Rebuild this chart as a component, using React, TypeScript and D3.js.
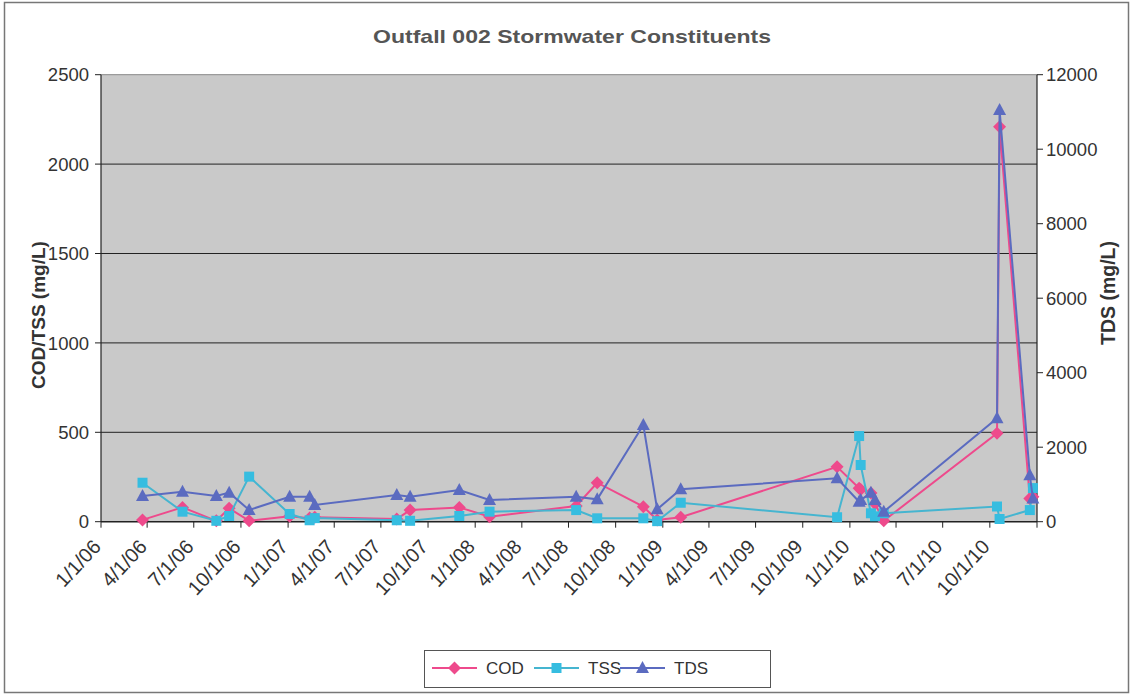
import React from "react";
import * as d3 from "d3";

// Sampling dates of the outfall stormwater grabs
const sampleDates = [
  "2006-03-23", "2006-06-09", "2006-08-14", "2006-09-08", "2006-10-17",
  "2007-01-04", "2007-02-12", "2007-02-22", "2007-08-01", "2007-08-27",
  "2007-12-01", "2008-01-29", "2008-07-16", "2008-08-26", "2008-11-24",
  "2008-12-21", "2009-02-05", "2009-12-07", "2010-01-19", "2010-01-22",
  "2010-02-11", "2010-02-19", "2010-03-08", "2010-10-15", "2010-10-20",
  "2010-12-18", "2010-12-24",
];

// Chemical oxygen demand, mg/L
const cod = [
  10, 80, 5, 75, 5, 30, 20, 25, 15, 65, 80, 28, 88, 218, 84, 10, 25, 307,
  187, 180, 160, 100, 5, 494, 2209, 130, 140,
];

// Total suspended solids, mg/L
const tss = [
  218, 56, 5, 32, 252, 43, 8, 20, 8, 5, 32, 56, 65, 19, 19, 3, 106, 25,
  479, 317, 47, 30, 47, 85, 15, 65, 188,
];

// Total dissolved solids, mg/L
const tds = [
  690, 805, 690, 780, 314, 670, 670, 450, 717, 670, 851, 583, 670, 600,
  2596, 333, 870, 1165, 537, 580, 779, 583, 268, 2776, 11054, 1250, 620,
];

const xTickLabels = [
  "1/1/06", "4/1/06", "7/1/06", "10/1/06", "1/1/07", "4/1/07", "7/1/07",
  "10/1/07", "1/1/08", "4/1/08", "7/1/08", "10/1/08", "1/1/09", "4/1/09",
  "7/1/09", "10/1/09", "1/1/10", "4/1/10", "7/1/10", "10/1/10",
];
const leftTicks = [0, 500, 1000, 1500, 2000, 2500];
const rightTicks = [0, 2000, 4000, 6000, 8000, 10000, 12000];

const W = 1135;
const H = 698;
const plot = { left: 101, right: 1037, top: 74.7, bottom: 521.7 };

const FONT = "'Liberation Sans', Arial, sans-serif";
const TEXT = "#333";

const COLORS = { cod: "#ee4a8c", tss: "#36bde0", tds: "#5b6bc0" };
const LINE_COLORS = { cod: "#ee4a8c", tss: "#45b5d0", tds: "#5b6bc0" };

const parseDate = d3.timeParse("%Y-%m-%d");
const parseTick = d3.timeParse("%-m/%-d/%y");

const dates = sampleDates.map((s) => parseDate(s) as Date);
const tickDates = xTickLabels.map((s) => parseTick(s) as Date);

const x = d3
  .scaleTime()
  .domain([new Date(2006, 0, 1), new Date(2011, 0, 1)])
  .range([plot.left, plot.right]);
const yLeft = d3.scaleLinear().domain([0, 2500]).range([plot.bottom, plot.top]);
const yRight = d3.scaleLinear().domain([0, 12000]).range([plot.bottom, plot.top]);

const allTickDates = [...tickDates, new Date(2011, 0, 1)];

type Shape = "diamond" | "square" | "triangle";
const markerPath: Record<Shape, string> = {
  diamond: "M0,-6.5L6.5,0L0,6.5L-6.5,0Z",
  square: "M-5,-5H5V5H-5Z",
  triangle: "M0,-7L6.5,5L-6.5,5Z",
};

function Series({
  values,
  scale,
  color,
  lineColor,
  shape,
}: {
  values: number[];
  scale: d3.ScaleLinear<number, number>;
  color: string;
  lineColor: string;
  shape: Shape;
}) {
  const pts = values.map((v, i) => [x(dates[i]), scale(v)] as [number, number]);
  const line = d3.line()(pts) || "";
  return (
    <g>
      <path d={line} fill="none" stroke={lineColor} strokeWidth={2} />
      {pts.map(([px, py], i) => (
        <path key={i} d={markerPath[shape]} transform={`translate(${px},${py})`} fill={color} />
      ))}
    </g>
  );
}

export default function App() {
  const legendItems: { label: string; color: string; lineColor: string; shape: Shape; x: number }[] = [
    { label: "COD", color: COLORS.cod, lineColor: LINE_COLORS.cod, shape: "diamond", x: 432 },
    { label: "TSS", color: COLORS.tss, lineColor: LINE_COLORS.tss, shape: "square", x: 534 },
    { label: "TDS", color: COLORS.tds, lineColor: LINE_COLORS.tds, shape: "triangle", x: 620 },
  ];
  return (
    <svg
      width={W}
      height={H}
      style={{ position: "absolute", left: 0, top: 0, background: "#fff" }}
      fontFamily={FONT}
    >
      <rect x={0} y={0} width={W} height={H} fill="#fff" />
      <rect x={4.5} y={2.5} width={1124} height={690} fill="none" stroke="#777" strokeWidth={1.5} />

      <text
        x={572}
        y={43}
        textAnchor="middle"
        fontSize={19}
        fontWeight="bold"
        fill="#555"
        textLength={398}
        lengthAdjust="spacingAndGlyphs"
      >
        Outfall 002 Stormwater Constituents
      </text>

      {/* plot area */}
      <rect
        x={plot.left}
        y={plot.top}
        width={plot.right - plot.left}
        height={plot.bottom - plot.top}
        fill="#c9c9c9"
      />
      {leftTicks.slice(1).map((t) => (
        <line
          key={t}
          x1={plot.left}
          x2={plot.right}
          y1={yLeft(t)}
          y2={yLeft(t)}
          stroke={t === 2500 ? "#888" : "#222"}
          strokeWidth={1}
        />
      ))}

      {/* left axis */}
      <line x1={plot.left} x2={plot.left} y1={plot.top} y2={plot.bottom} stroke="#222" strokeWidth={1.2} />
      {leftTicks.map((t) => (
        <g key={t}>
          <line x1={plot.left - 6} x2={plot.left} y1={yLeft(t)} y2={yLeft(t)} stroke="#222" />
          <text x={plot.left - 12} y={yLeft(t)} dy="0.36em" textAnchor="end" fontSize={18.5} fill={TEXT}>
            {t}
          </text>
        </g>
      ))}
      <text
        transform={`translate(45,315) rotate(-90)`}
        textAnchor="middle"
        fontSize={19}
        fontWeight="bold"
        fill={TEXT}
      >
        COD/TSS (mg/L)
      </text>

      {/* right axis */}
      <line x1={plot.right} x2={plot.right} y1={plot.top} y2={plot.bottom} stroke="#222" strokeWidth={1.2} />
      {rightTicks.map((t) => (
        <g key={t}>
          <line x1={plot.right} x2={plot.right + 6} y1={yRight(t)} y2={yRight(t)} stroke="#222" />
          <text x={plot.right + 9} y={yRight(t)} dy="0.36em" textAnchor="start" fontSize={18.5} fill={TEXT}>
            {t}
          </text>
        </g>
      ))}
      <text
        transform={`translate(1115,293) rotate(-90)`}
        textAnchor="middle"
        fontSize={19.5}
        fontWeight="bold"
        fill={TEXT}
      >
        TDS (mg/L)
      </text>

      {/* bottom axis */}
      <line x1={plot.left} x2={plot.right} y1={plot.bottom} y2={plot.bottom} stroke="#222" strokeWidth={1.5} />
      {allTickDates.map((d, i) => (
        <line key={i} x1={x(d)} x2={x(d)} y1={plot.bottom} y2={plot.bottom + 6} stroke="#222" />
      ))}
      {tickDates.map((d, i) => (
        <text
          key={i}
          transform={`translate(${x(d) + 1},${plot.bottom + 26}) rotate(-47)`}
          textAnchor="end"
          fontSize={20}
          fill={TEXT}
        >
          {xTickLabels[i]}
        </text>
      ))}

      <Series values={cod} scale={yLeft} color={COLORS.cod} lineColor={LINE_COLORS.cod} shape="diamond" />
      <Series values={tss} scale={yLeft} color={COLORS.tss} lineColor={LINE_COLORS.tss} shape="square" />
      <Series values={tds} scale={yRight} color={COLORS.tds} lineColor={LINE_COLORS.tds} shape="triangle" />

      {/* legend */}
      <rect x={424.5} y={650.5} width={346} height={37} fill="#fff" stroke="#555" />
      {legendItems.map((it) => (
        <g key={it.label}>
          <line x1={it.x} x2={it.x + 45} y1={668} y2={668} stroke={it.lineColor} strokeWidth={2} />
          <path d={markerPath[it.shape]} transform={`translate(${it.x + 22.5},668)`} fill={it.color} />
          <text x={it.x + 54} y={668} dy="0.36em" fontSize={17} fill={TEXT}>
            {it.label}
          </text>
        </g>
      ))}
    </svg>
  );
}
